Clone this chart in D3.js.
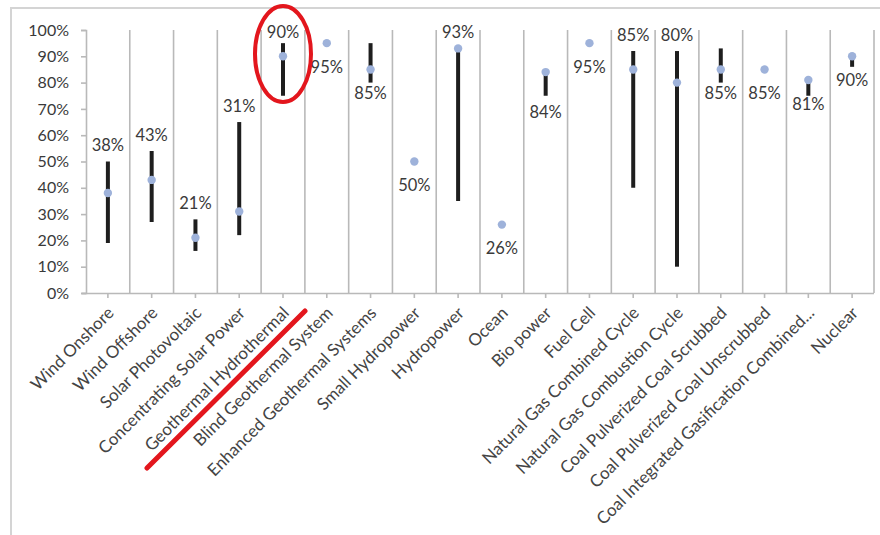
<!DOCTYPE html>
<html>
<head>
<meta charset="utf-8">
<script src="https://cdn.jsdelivr.net/npm/d3@7/dist/d3.min.js"></script>
<style>
  html, body { margin: 0; padding: 0; background: #fff; }
  svg { display: block; }
  text { font-family: Lato, "Open Sans", sans-serif; }
</style>
</head>
<body>
<svg id="chart" width="880" height="535"></svg>
<script>
// Capacity factor by generation technology: typical value and range (percent)
const categories = [
  "Wind Onshore", "Wind Offshore", "Solar Photovoltaic", "Concentrating Solar Power",
  "Geothermal Hydrothermal", "Blind Geothermal System", "Enhanced Geothermal Systems",
  "Small Hydropower", "Hydropower", "Ocean", "Bio power", "Fuel Cell",
  "Natural Gas Combined Cycle", "Natural Gas Combustion Cycle",
  "Coal Pulverized Coal Scrubbed", "Coal Pulverized Coal Unscrubbed",
  "Coal Integrated Gasification Combined...", "Nuclear"
];
const typical = [38, 43, 21, 31, 90, 95, 85, 50, 93, 26, 84, 95, 85, 80, 85, 85, 81, 90];
const rangeLow  = [19, 27, 16, 22, 75, null, 80, null, 35, null, 75, null, 40, 10, 80, null, 75, 86];
const rangeHigh = [50, 54, 28, 65, 95, null, 95, null, 93, null, 84, null, 92, 92, 93, null, 81, 90];
const labelSide = ["above", "above", "above", "above", "above", "below", "below", "below", "above",
                   "below", "below", "below", "above", "above", "below", "below", "below", "below"];
const yTicks = [0, 10, 20, 30, 40, 50, 60, 70, 80, 90, 100];
// Highlighted technology
const highlighted = "Geothermal Hydrothermal";

const rows = categories.map((c, i) => ({
  name: c, value: typical[i], low: rangeLow[i], high: rangeHigh[i], side: labelSide[i]
}));

const svg = d3.select("#chart");
const W = 880, H = 535;
const plot = { left: 86, right: 874, top: 30, bottom: 293 };

const x = d3.scaleBand().domain(categories).range([plot.left, plot.right]).padding(0);
const y = d3.scaleLinear().domain([0, 100]).range([plot.bottom, plot.top]);

const grey = "#b9b9b9";
const textCol = "#3a3a3a";

// Outer chart frame (top and left edges)
svg.append("path")
  .attr("d", `M11,${H} L11,8 L${W},8`)
  .attr("fill", "none").attr("stroke", "#d4d4d4").attr("stroke-width", 2);

// Vertical gridlines between categories
const bounds = categories.slice(1).map(c => x(c)).concat([x.range()[1]]);
svg.append("g").selectAll("line").data(bounds).join("line")
  .attr("x1", d => d).attr("x2", d => d)
  .attr("y1", y(100)).attr("y2", y(0))
  .attr("stroke", grey).attr("stroke-width", 1.6);

// Y axis
const yAxis = svg.append("g")
  .attr("transform", `translate(${plot.left},0)`)
  .call(d3.axisLeft(y).tickValues(yTicks).tickFormat(d => d + "%").tickSize(5).tickPadding(12));
yAxis.select(".domain").attr("stroke", grey).attr("stroke-width", 1.6);
yAxis.selectAll(".tick line").attr("stroke", grey).attr("stroke-width", 1.6);
yAxis.selectAll(".tick text")
  .attr("fill", textCol).style("font-size", "16px").style("font-family", "Lato, sans-serif");

// X axis
const xAxis = svg.append("g")
  .attr("transform", `translate(0,${plot.bottom})`)
  .call(d3.axisBottom(x).tickSize(5).tickSizeOuter(0));
xAxis.select(".domain").attr("stroke", grey).attr("stroke-width", 1.6)
  .attr("d", `M${plot.left - 4},0.5H${plot.right}`);
xAxis.selectAll(".tick line").attr("stroke", grey).attr("stroke-width", 1.6);
xAxis.selectAll(".tick text")
  .attr("fill", "#444")
  .style("font-size", "17px").style("font-family", "Lato, sans-serif")
  .attr("text-anchor", "end")
  .attr("x", 0).attr("y", 0).attr("dy", 0)
  .attr("transform", "translate(7,21) rotate(-45)");

// Range bars
const bars = svg.append("g");
bars.selectAll("line").data(rows.filter(r => r.low != null)).join("line")
  .attr("x1", r => x(r.name) + x.bandwidth() / 2)
  .attr("x2", r => x(r.name) + x.bandwidth() / 2)
  .attr("y1", r => y(r.high)).attr("y2", r => y(r.low))
  .attr("stroke", "#1e1e1e").attr("stroke-width", 4);

// Typical value markers
svg.append("g").selectAll("circle").data(rows).join("circle")
  .attr("cx", r => x(r.name) + x.bandwidth() / 2)
  .attr("cy", r => y(r.value))
  .attr("r", 4.2)
  .attr("fill", "#9eb2da");

// Value labels, placed above the range or below the marker
function labelY(r) {
  const py = y(r.value);
  if (r.side === "above") {
    const top = y(r.high != null ? Math.max(r.high, r.value) : r.value);
    return Math.max(top - 16, 32);
  }
  const bottom = r.low != null ? y(Math.min(r.low, r.value)) : py;
  return bottom - py > 20 ? bottom + 16 : py + 24;
}
svg.append("g").selectAll("text").data(rows).join("text")
  .attr("x", r => x(r.name) + x.bandwidth() / 2)
  .attr("y", r => labelY(r))
  .attr("dy", "0.35em")
  .attr("text-anchor", "middle")
  .attr("fill", textCol)
  .style("font-size", "16.5px")
  .text(r => r.value + "%");

// Highlight annotations in red
const hx = x(highlighted) + x.bandwidth() / 2;
svg.append("ellipse")
  .attr("cx", hx).attr("cy", 54).attr("rx", 28).attr("ry", 48)
  .attr("fill", "none").attr("stroke", "#e3161d").attr("stroke-width", 4);
svg.append("line")
  .attr("x1", 147).attr("y1", 468).attr("x2", hx + 22).attr("y2", 311)
  .attr("stroke", "#e3161d").attr("stroke-width", 5).attr("stroke-linecap", "round");
</script>
</body>
</html>
